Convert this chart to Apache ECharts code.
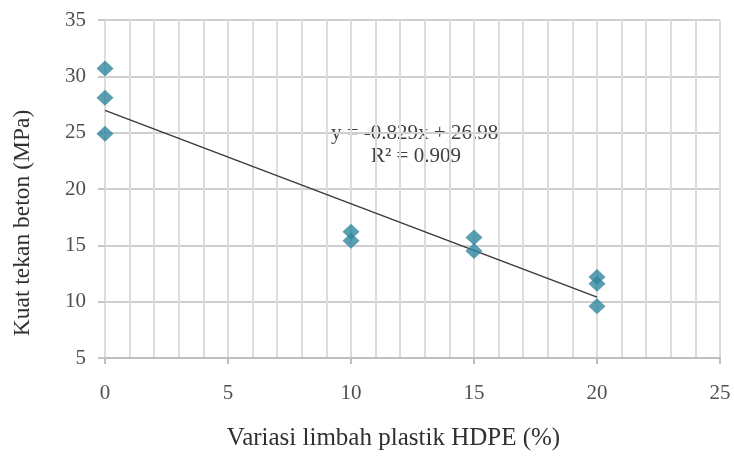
<!DOCTYPE html>
<html>
<head>
<meta charset="utf-8">
<script src="https://cdn.jsdelivr.net/npm/echarts@6/dist/echarts.min.js"></script>
<style>
html,body{margin:0;padding:0;background:#fff;}
#chart{width:734px;height:459px;}
</style>
</head>
<body>
<div id="chart"></div>
<script>
// Data
const xValues = [0, 0, 0, 10, 10, 15, 15, 20, 20, 20];
const yValues = [30.7, 28.1, 24.9, 16.2, 15.4, 15.7, 14.5, 12.2, 11.6, 9.6];
const trendSlope = -0.829;
const trendIntercept = 26.98;
const trendRange = [0, 20];
const equationText = 'y = -0.829x + 26.98';
const r2Text = 'R² = 0.909';
const xAxisTitle = 'Variasi limbah plastik HDPE (%)';
const yAxisTitle = 'Kuat tekan beton (MPa)';

const scatterData = xValues.map((x, i) => [x, yValues[i]]);
const trendData = trendRange.map(x => [x, +(trendIntercept + trendSlope * x).toFixed(3)]);

const font = '"Liberation Serif", "Times New Roman", serif';
const chart = echarts.init(document.getElementById('chart'), null, {renderer: 'canvas'});
chart.setOption({
  animation: false,
  backgroundColor: '#ffffff',
  grid: {left: 105, right: 14, top: 20, bottom: 101},
  xAxis: {
    type: 'value', min: 0, max: 25, interval: 5,
    name: xAxisTitle, nameLocation: 'middle', nameGap: 68,
    nameTextStyle: {fontFamily: font, fontSize: 25, color: '#303030', padding: [0, 38, 0, 0]},
    axisLine: {show: true, onZero: false, lineStyle: {color: '#bfbfbf', width: 2}},
    axisTick: {show: true, length: 6, lineStyle: {color: '#bfbfbf', width: 2}},
    axisLabel: {fontFamily: font, fontSize: 21, color: '#505050', margin: 25},
    splitLine: {show: true, lineStyle: {color: '#dcdcdc', width: 2}},
    minorTick: {show: false, splitNumber: 5},
    minorSplitLine: {show: true, lineStyle: {color: '#dcdcdc', width: 2}}
  },
  yAxis: {
    type: 'value', min: 5, max: 35, interval: 5,
    axisLine: {show: false},
    axisTick: {show: true, length: 7, lineStyle: {color: '#c8c8c8', width: 2}},
    axisLabel: {fontFamily: font, fontSize: 21, color: '#505050', margin: 19},
    splitLine: {show: true, lineStyle: {color: '#cfcfcf', width: 2}}
  },
  graphic: [
    {type: 'text', left: 331, top: 123, style: {text: equationText, font: '21px ' + font, fill: '#404040'}},
    {type: 'text', left: 371, top: 146, style: {text: r2Text, font: '21px ' + font, fill: '#404040'}},
    {type: 'text', x: 23, y: 223, rotation: Math.PI / 2,
      style: {text: yAxisTitle, font: '23.5px ' + font, fill: '#303030', align: 'center', verticalAlign: 'middle'}}
  ],
  series: [
    {
      type: 'line', data: trendData, symbol: 'none', z: 3,
      lineStyle: {color: '#3a3a3a', width: 1.5}
    },
    {
      type: 'scatter', data: scatterData, symbol: 'diamond', symbolSize: [17, 16], z: 4,
      itemStyle: {color: '#2f869e'}
    }
  ]
});
</script>
</body>
</html>
